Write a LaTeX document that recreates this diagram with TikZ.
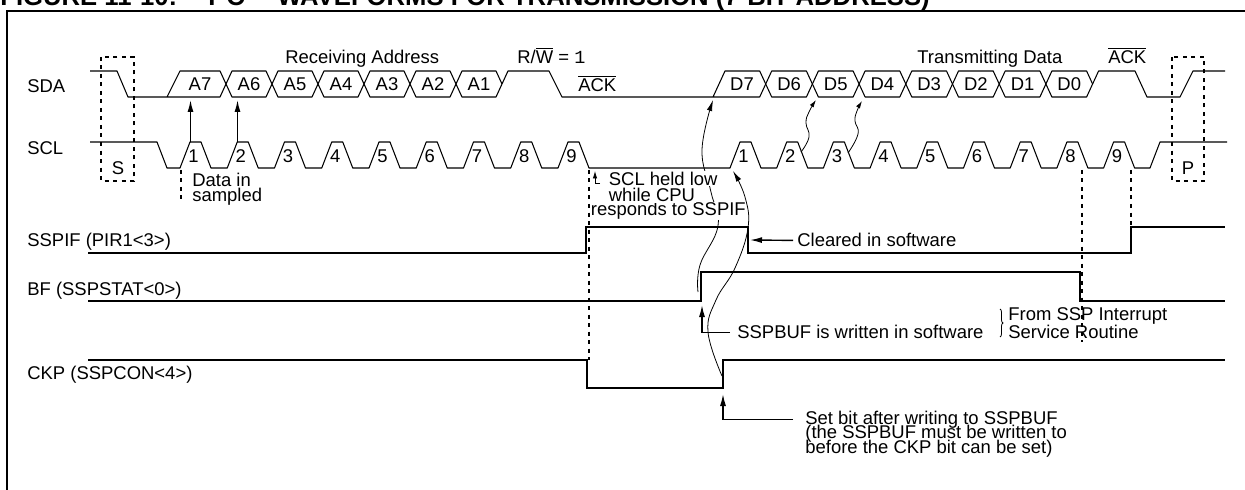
\documentclass[tikz,border=0pt]{standalone}
\usepackage{fontspec}
\setmainfont{Liberation Sans}
\setmonofont{Liberation Mono}
\usetikzlibrary{arrows.meta,decorations.pathreplacing}

\newcommand{\notsig}[1]{$\overline{\mbox{#1}}$}

\begin{document}
\begin{tikzpicture}[
    x=0.2mm, y=-0.2mm,
    font=\fontsize{10.5}{12}\selectfont,
    wave/.style={line width=0.6pt, line join=round},
    reg/.style={line width=1.1pt},
    frame/.style={line width=1.2pt},
    guide/.style={line width=0.7pt, dash pattern=on 0.8mm off 0.9mm},
    lead/.style={line width=0.8pt, -{Latex[length=2.4mm,width=1.2mm]}},
    curve/.style={line width=0.45pt, -{Latex[length=2.2mm,width=1.1mm]}},
    twist/.style={line width=0.45pt, -{Latex[length=1.5mm,width=0.9mm]}},
    lbl/.style={anchor=base west, inner sep=0pt},
    note/.style={anchor=base west, inner sep=0.3pt, fill=white},
    bit/.style={inner sep=0pt},
    heading/.style={anchor=base west, inner sep=0pt, font=\fontsize{14.6}{16}\selectfont\bfseries}
]
\useasboundingbox (0,0) rectangle (1245,490);
\clip (0,0) rectangle (1245,490);

% --- Title and frame ---
\node[heading] (fig) at (0,5.5) {FIGURE 11-10:};
\node[heading] (figbus) at (208,5.5) {I\textsuperscript{2}C};
\node[heading] (figtitle) at (277,5.5) {WAVEFORMS FOR TRANSMISSION (7-BIT ADDRESS)};
\draw[frame] (7,490) -- (7,11) -- (1245,11);

% --- Signal names ---
\node[lbl] (sda) at (27,93) {SDA};
\node[lbl] (scl) at (27,155) {SCL};
\node[lbl] (sspif) at (27,247) {SSPIF (PIR1<3>)};
\node[lbl] (bf) at (27,295) {BF (SSPSTAT<0>)};
\node[lbl] (ckp) at (27,380) {CKP (SSPCON<4>)};

% --- Labels over SDA ---
\node[lbl] (rxaddr) at (285,64) {Receiving Address};
\node[lbl] (rw) at (517,64) {R/\notsig{W} = \texttt{1}};
\node[lbl] (txdata) at (917,64) {Transmitting Data};
\node[lbl] (nack) at (1108,64) {\notsig{ACK}};
\node[lbl] (ack) at (578,92) {\notsig{ACK}};

% --- SDA ---
\draw[wave] (90,71) -- (117,71) -- (128,97) -- (220,97) -- (226,84) -- (220,71) -- (180,71) -- (167,97);
\node[bit] at (200,84) {A7};
\foreach \xa/\t in {226/A6, 272/A5, 318/A4, 364/A3, 410/A2, 456/A1} {
  \draw[wave] (\xa,84) -- (\xa+6,71) -- (\xa+40,71) -- (\xa+46,84) -- (\xa+40,97) -- (\xa+6,97) -- cycle;
  \node[bit] at (\xa+23,84) {\t};
}
\draw[wave] (502,84) -- (508,71) -- (549,71) -- (562,97) -- (759.7,97) -- (765.7,84) -- (759.7,71) -- (725,71) -- (713,97);
\node[bit] at (742,84) {D7};
\foreach \i/\t in {1/D6, 2/D5, 3/D4, 4/D3, 5/D2, 6/D1, 7/D0} {
  \pgfmathsetmacro\xa{719+46.7*\i}
  \draw[wave] (\xa,84) -- (\xa+6,71) -- (\xa+40.7,71) -- (\xa+46.7,84) -- (\xa+40.7,97) -- (\xa+6,97) -- cycle;
  \node[bit] at (\xa+23.35,84) {\t};
}
\draw[wave] (1092.6,84) -- (1098.6,71) -- (1135,71) -- (1147,97) -- (1180,97) -- (1193,71) -- (1225,71);

% --- SCL ---
\draw[wave] (90,142) -- (157,142) -- (167,168)
  \foreach \i in {0,...,8} { -- (180+47.25*\i,168) -- ++(10,-26) -- ++(11,0) -- ++(10,26) }
  \foreach \i in {0,...,8} { -- (730+46.7*\i,168) -- ++(10,-26) -- ++(11,0) -- ++(10,26) }
  -- (1150,168) -- (1160,142) -- (1227,142);
\foreach \i in {1,...,9} {
  \node[bit, anchor=base] at (193.5+47.25*\i-47.25,163) {\i};
  \node[bit, anchor=base] at (743.5+46.7*\i-46.7,163) {\i};
}

% --- Start / stop ---
\draw[guide] (101,57) rectangle (134,181);
\draw[guide] (1172,57) rectangle (1204,181);
\node[bit] (start) at (118,168) {S};
\node[bit] (stop) at (1188,168) {P};

% --- Register bits ---
\draw[reg] (88,253) -- (586,253) -- (586,227) -- (748,227) -- (748,253) -- (1131,253) -- (1131,227) -- (1225,227);
\draw[reg] (88,301) -- (701,301) -- (701,272) -- (1080,272) -- (1080,301) -- (1225,301);
\draw[reg] (88,360) -- (587,360) -- (587,388) -- (723,388) -- (723,360) -- (1225,360);

% --- Timing guides ---
\draw[guide] (181,170) -- (181,204);
\draw[guide] (589,170) -- (589,360);
\draw[guide] (1082,170) -- (1082,342);
\draw[guide] (1131,170) -- (1131,227);

% --- Points on the waveforms ---
\coordinate (clkA) at (190.5,142);
\coordinate (bitA7) at (190.5,100);
\coordinate (clkB) at (237.5,142);
\coordinate (bitA6) at (237.5,100);
\coordinate (bfrise) at (698,292);
\coordinate (d7edge) at (713,100);
\coordinate (ckprise) at (722,376);
\coordinate (sclrelease) at (733,171);
\coordinate (clk2fall) at (801,152);
\coordinate (d5edge) at (816,100);
\coordinate (clk3fall) at (848,153);
\coordinate (d4edge) at (862,101);
\coordinate (sspifclr) at (750,240);
\coordinate (bfset) at (702,305);
\coordinate (ckpset) at (723,394);
\coordinate (sclheld) at (595,171);

% Data sampled on rising clock
\draw[lead] (clkA) -- (bitA7);
\draw[lead] (clkB) -- (bitA6);

% Causal curves
\draw[curve] plot[smooth, tension=0.7] coordinates {(bfrise) (700,265) (718,226) (711,192) (702,150) (d7edge)};
\draw[curve] plot[smooth, tension=0.7] coordinates {(ckprise) (708,332) (716,300) (735,268) (748,228) (745,197) (sclrelease)};
\draw[twist] plot[smooth, tension=0.8] coordinates {(clk2fall) (809,137) (806,123) (809,112) (d5edge)};
\draw[twist] plot[smooth, tension=0.8] coordinates {(clk3fall) (858,134) (855,121) (857,111) (d4edge)};

% --- Notes ---
\node[lbl] (datain) at (192,187) {Data in};
\node[lbl] (sampled) at (192,201.5) {sampled};

\node[note] (responds) at (590,216) {responds to SSPIF};
\node[note] (whilecpu) at (608,202) {while CPU};
\node[note] (held) at (608,185) {SCL held low};
\draw[twist] ([xshift=-1.6mm, yshift=0.4mm]held.base west) -| (sclheld);

\node[lbl] (cleared) at (797,247) {Cleared in software};
\draw[lead] ([xshift=-0.8mm]cleared.west) -- (sspifclr);

\node[lbl] (bufnote) at (737,339) {SSPBUF is written in software};
\draw[lead] ([xshift=-1.4mm]bufnote.west) -| (bfset);

\draw[line width=0.45pt, decorate, decoration={brace, amplitude=0.6mm}] (1000,309) -- (1000,337);
\node[lbl] (isr1) at (1008,320) {From SSP Interrupt};
\node[lbl] (isr2) at (1008,339) {Service Routine};

\node[lbl] (setbit1) at (805,424) {Set bit after writing to SSPBUF};
\node[lbl] (setbit2) at (805,438.5) {(the SSPBUF must be written to};
\node[lbl] (setbit3) at (805,453) {before the CKP bit can be set)};
\draw[lead] ([xshift=-2.4mm]setbit1.west) -| (ckpset);

\end{tikzpicture}
\end{document}
